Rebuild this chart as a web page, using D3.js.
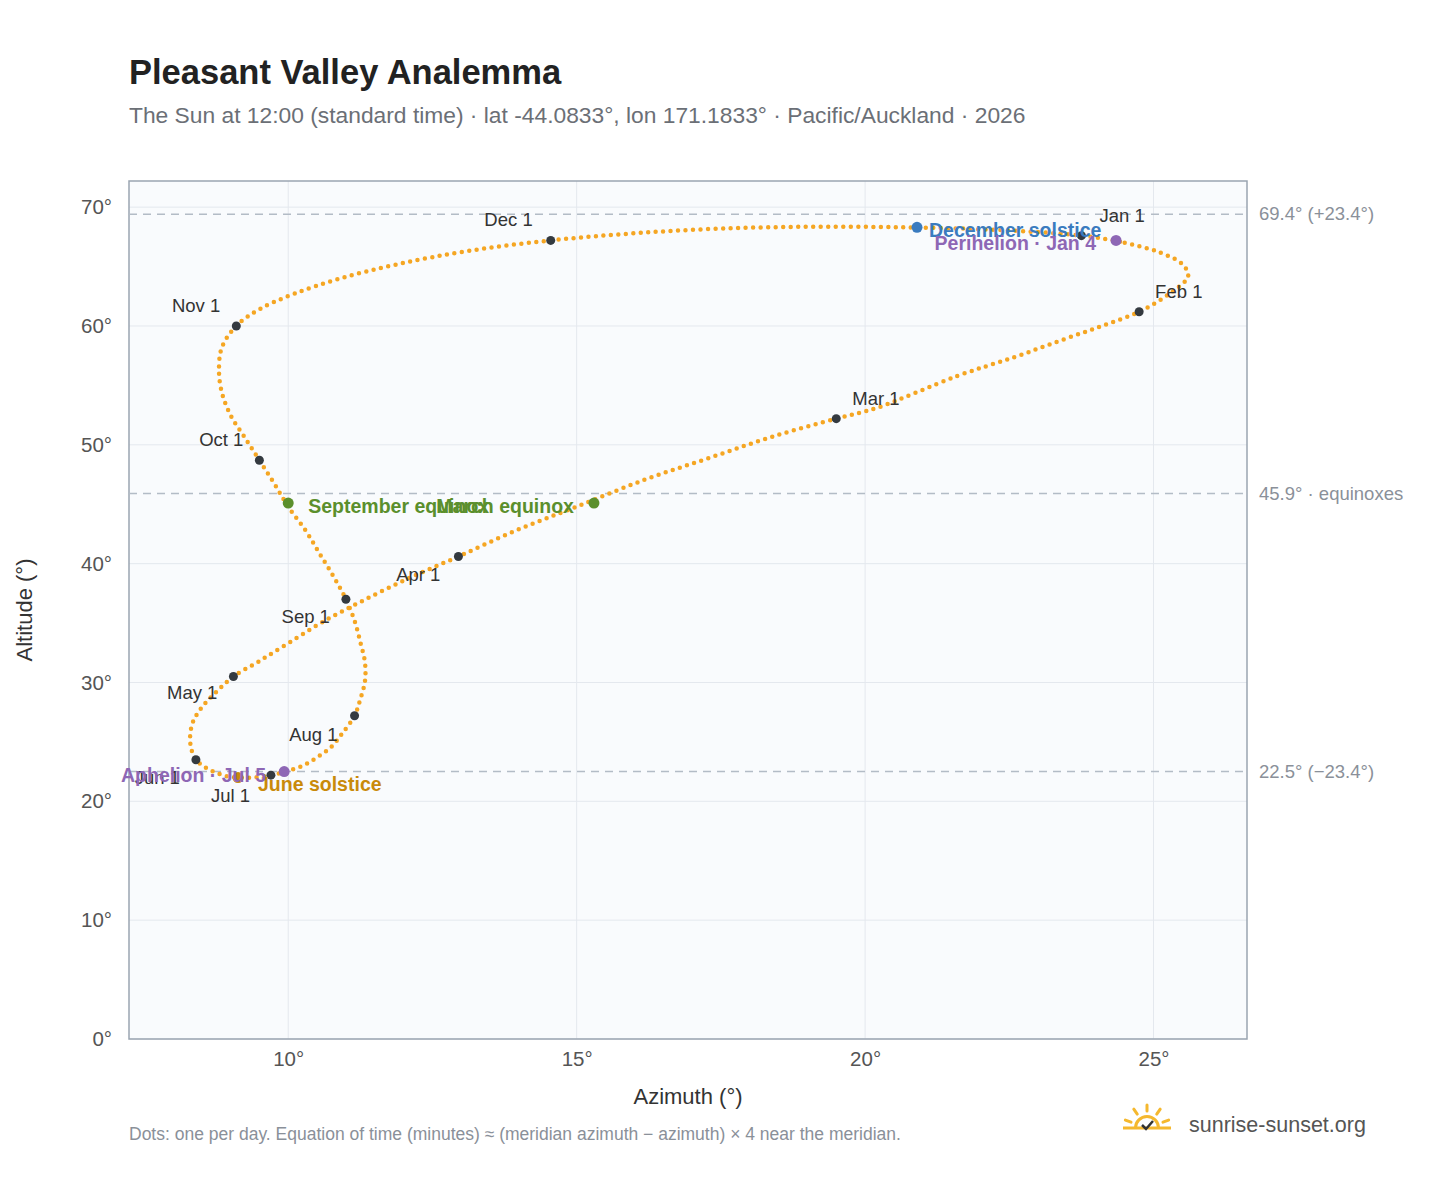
<!DOCTYPE html>
<html><head><meta charset="utf-8">
<script src="https://cdn.jsdelivr.net/npm/d3@7"></script>
<style>body{margin:0;background:#fff;font-family:"Liberation Sans",Arial,sans-serif}</style>
</head><body><div id="chart"></div>
<script>
const width = 1448, height = 1188;
const margin = {top: 181, left: 129, right: 201, bottom: 149};

// one sample every 5 days: [azimuth, altitude]
const dates = ["Jan 1","Jan 6","Jan 11","Jan 16","Jan 21","Jan 26","Feb 1","Feb 6","Feb 11","Feb 16","Feb 21","Feb 26",
  "Mar 1","Mar 6","Mar 11","Mar 16","Mar 21","Mar 26","Apr 1","Apr 6","Apr 11","Apr 16","Apr 21","Apr 26",
  "May 1","May 6","May 11","May 16","May 21","May 26","Jun 1","Jun 6","Jun 11","Jun 16","Jun 21","Jun 26",
  "Jul 1","Jul 6","Jul 11","Jul 16","Jul 21","Jul 26","Aug 1","Aug 6","Aug 11","Aug 16","Aug 21","Aug 26",
  "Sep 1","Sep 6","Sep 11","Sep 16","Sep 21","Sep 26","Oct 1","Oct 6","Oct 11","Oct 16","Oct 21","Oct 26",
  "Nov 1","Nov 6","Nov 11","Nov 16","Nov 21","Nov 26","Dec 1","Dec 6","Dec 11","Dec 16","Dec 21","Dec 26"];
const azimuth = [23.75,24.5,25.1,25.5,25.6,25.3,24.75,24.1,23.4,22.6,21.6,20.2,
  19.5,18.4,17.3,16.2,15.0,13.95,12.95,12.1,11.3,10.6,10.0,9.5,
  9.05,8.75,8.5,8.35,8.3,8.32,8.4,8.55,8.75,8.95,9.15,9.4,
  9.7,9.95,10.25,10.5,10.75,10.95,11.15,11.25,11.33,11.33,11.25,11.15,
  11.0,10.8,10.55,10.3,10.0,9.75,9.5,9.25,9.0,8.85,8.8,8.85,
  9.1,9.5,10.1,10.9,11.9,13.1,14.55,16.0,17.5,19.1,20.7,22.2];
const altitude = [67.6,67.0,66.2,65.2,64.2,62.8,61.2,60.0,58.8,57.4,55.8,53.1,
  52.2,50.7,48.9,47.1,44.8,42.8,40.6,38.8,36.9,35.1,33.3,31.8,
  30.5,29.2,27.9,26.7,25.5,24.4,23.5,22.9,22.4,22.1,22.0,22.0,
  22.2,22.5,23.0,23.7,24.6,25.8,27.2,28.6,30.1,31.7,33.4,35.2,
  37.0,38.8,40.8,42.8,44.8,46.8,48.7,50.6,52.5,54.4,56.2,58.2,
  60.0,61.4,62.7,64.0,65.2,66.3,67.2,67.8,68.2,68.35,68.3,68.1];

const monthNames = ["Jan 1","Feb 1","Mar 1","Apr 1","May 1","Jun 1","Jul 1","Aug 1","Sep 1","Oct 1","Nov 1","Dec 1"];
const eventNames = ["December solstice","Perihelion · Jan 4","March equinox","September equinox","June solstice","Aphelion · Jul 5"];
const eventAz = [20.9,24.35,15.3,10.0,9.13,9.93];
const eventAlt = [68.3,67.2,45.1,45.1,22.0,22.5];
const eventColors = ["#3a7bbf","#8e67b5","#5b8f2c","#5b8f2c","#c98a0a","#8e67b5"];
const refAlt = [69.4,45.9,22.5];
const refLabels = ["69.4° (+23.4°)","45.9° · equinoxes","22.5° (−23.4°)"];
const xTicks = [10,15,20,25], yTicks = [0,10,20,30,40,50,60,70];

// label placement (pixel offsets, anchor)
const monthPos = {"Jan 1":[18,-14,"start"],"Feb 1":[16,-14,"start"],"Mar 1":[16,-14,"start"],"Apr 1":[-18,24,"end"],
  "May 1":[-16,22,"end"],"Jun 1":[-16,24,"end"],"Jul 1":[-60,27,"start"],"Aug 1":[-17,25,"end"],
  "Sep 1":[-16,24,"end"],"Oct 1":[-16,-14,"end"],"Nov 1":[-16,-14,"end"],"Dec 1":[-18,-14,"end"]};
const eventPos = [[12,6,"start"],[-20,6,"end"],[-20,6,"end"],[20,6,"start"],[20,9,"start"],[-18,6,"end"]];

const svg = d3.select("#chart").append("svg").attr("width", width).attr("height", height);
const x = d3.scaleLinear().domain([7.24,26.62]).range([margin.left, width - margin.right]);
const y = d3.scaleLinear().domain([0,72.2]).range([height - margin.bottom, margin.top]);

svg.append("text").attr("x",129).attr("y",84).text("Pleasant Valley Analemma")
  .attr("font-size",34.5).attr("font-weight","bold").attr("fill","#222");
svg.append("text").attr("x",129).attr("y",123)
  .text("The Sun at 12:00 (standard time) · lat -44.0833°, lon 171.1833° · Pacific/Auckland · 2026")
  .attr("font-size",22.8).attr("fill","#6b6f76");

svg.append("rect").attr("x",x.range()[0]).attr("y",y.range()[1])
  .attr("width",x.range()[1]-x.range()[0]).attr("height",y.range()[0]-y.range()[1]).attr("fill","#f9fbfd");

svg.selectAll(".gx").data(xTicks).enter().append("line")
  .attr("x1",d=>x(d)).attr("x2",d=>x(d)).attr("y1",y.range()[0]).attr("y2",y.range()[1]).attr("stroke","#e4e8ee");
svg.selectAll(".gy").data(yTicks).enter().append("line")
  .attr("y1",d=>y(d)).attr("y2",d=>y(d)).attr("x1",x.range()[0]).attr("x2",x.range()[1]).attr("stroke","#e4e8ee");

svg.append("rect").attr("x",x.range()[0]).attr("y",y.range()[1])
  .attr("width",x.range()[1]-x.range()[0]).attr("height",y.range()[0]-y.range()[1])
  .attr("fill","none").attr("stroke","#9aa5b1").attr("stroke-width",1.5);

const xa = svg.append("g").attr("transform",`translate(0,${y.range()[0]})`)
  .call(d3.axisBottom(x).tickValues(xTicks).tickFormat(d=>d+"°").tickSize(0).tickPadding(12));
const ya = svg.append("g").attr("transform",`translate(${x.range()[0]},0)`)
  .call(d3.axisLeft(y).tickValues(yTicks).tickFormat(d=>d+"°").tickSize(0).tickPadding(17));
[xa,ya].forEach(a=>{a.select(".domain").remove();a.selectAll("text").attr("font-size",20.5).attr("fill","#555").attr("font-family","Liberation Sans, Arial");});

svg.append("text").attr("x",(x.range()[0]+x.range()[1])/2).attr("y",1104).attr("text-anchor","middle")
  .text("Azimuth (°)").attr("font-size",22).attr("fill","#333");
svg.append("text").attr("transform",`translate(32,${(y.range()[0]+y.range()[1])/2}) rotate(-90)`)
  .attr("text-anchor","middle").text("Altitude (°)").attr("font-size",22).attr("fill","#333");

refAlt.forEach((a,i)=>{
  svg.append("line").attr("x1",x.range()[0]).attr("x2",x.range()[1]).attr("y1",y(a)).attr("y2",y(a))
    .attr("stroke","#b3bcc6").attr("stroke-width",1.5).attr("stroke-dasharray","8,6");
  svg.append("text").attr("x",x.range()[1]+12).attr("y",y(a)+6).text(refLabels[i])
    .attr("font-size",18.5).attr("fill","#8a9099");
});

const pts = dates.map((d,i)=>({date:d, az:azimuth[i], alt:altitude[i]}));
// dotted trail through the samples, drawn as a closed curve with round dots
svg.append("path").datum(pts)
  .attr("d", d3.line().x(d=>x(d.az)).y(d=>y(d.alt)).curve(d3.curveCatmullRomClosed))
  .attr("fill","none").attr("stroke","#f5a623").attr("stroke-width",4.5)
  .attr("stroke-linecap","round").attr("stroke-dasharray","0,7.5");

const months = pts.filter(d=>monthNames.includes(d.date));
svg.selectAll(".m").data(months).enter().append("circle")
  .attr("cx",d=>x(d.az)).attr("cy",d=>y(d.alt)).attr("r",4.5).attr("fill","#343a40");
svg.selectAll(".ml").data(months).enter().append("text")
  .attr("x",d=>x(d.az)+monthPos[d.date][0]).attr("y",d=>y(d.alt)+monthPos[d.date][1])
  .attr("text-anchor",d=>monthPos[d.date][2]).text(d=>d.date).attr("font-size",18.5).attr("fill","#333");

eventNames.forEach((n,i)=>{
  svg.append("circle").attr("cx",x(eventAz[i])).attr("cy",y(eventAlt[i])).attr("r",5.5).attr("fill",eventColors[i]);
  svg.append("text").attr("x",x(eventAz[i])+eventPos[i][0]).attr("y",y(eventAlt[i])+eventPos[i][1]+4)
    .attr("text-anchor",eventPos[i][2]).text(n).attr("font-size",19.5).attr("font-weight","bold").attr("fill",eventColors[i]);
});

svg.append("text").attr("x",129).attr("y",1140)
  .text("Dots: one per day. Equation of time (minutes) ≈ (meridian azimuth − azimuth) × 4 near the meridian.")
  .attr("font-size",17.5).attr("fill","#8a9099");

// logo
const lg = svg.append("g").attr("transform","translate(1147,1128)");
lg.append("path").attr("d",d3.arc()({innerRadius:10,outerRadius:13,startAngle:-Math.PI/2,endAngle:Math.PI/2})).attr("fill","#f5b82e");
[-70,-35,0,35,70].forEach(a=>{
  const r=a*Math.PI/180;
  lg.append("line").attr("x1",Math.sin(r)*17).attr("y1",-Math.cos(r)*17).attr("x2",Math.sin(r)*23).attr("y2",-Math.cos(r)*23)
    .attr("stroke","#f5b82e").attr("stroke-width",3).attr("stroke-linecap","round");
});
lg.append("line").attr("x1",-24).attr("x2",24).attr("y1",0).attr("y2",0).attr("stroke","#f5b82e").attr("stroke-width",3);
lg.append("path").attr("d","M-5,-3 L-1,1 L6,-7").attr("fill","none").attr("stroke","#333").attr("stroke-width",2.5);
svg.append("text").attr("x",1189).attr("y",1132).text("sunrise-sunset.org").attr("font-size",21.5).attr("fill","#555");
</script></body></html>
